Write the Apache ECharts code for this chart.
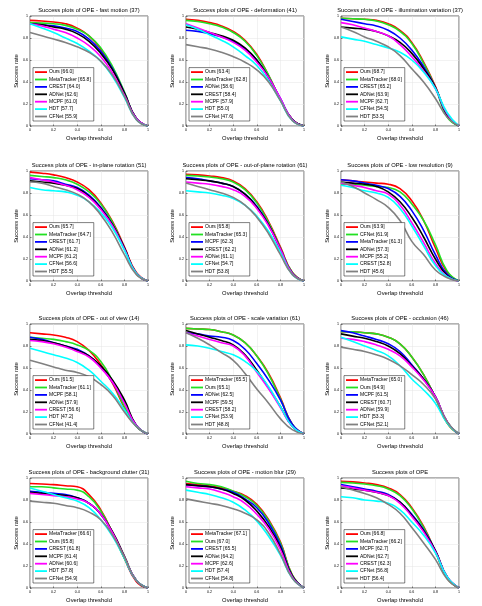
<!DOCTYPE html>
<html lang="en">
<head>
    <meta charset="UTF-8">
    <title>Success plots of OPE</title>
    <script src="https://cdn.jsdelivr.net/npm/echarts@6/dist/echarts.min.js"></script>
    <style>
        html, body { margin: 0; padding: 0; background: #fff; }
        #main { width: 482px; height: 606px; }
    </style>
</head>
<body>
<div id="main"></div>
<script type="text/javascript">
    const thresholds = [0, 0.1, 0.2, 0.3, 0.4, 0.5, 0.6, 0.7, 0.8, 0.9, 1];

    // line colour by legend rank
    const rankColors = ['#ff0000', '#22e022', '#0000ff', '#000000', '#ff00ff', '#00ffff', '#808080'];

    const titles = [
        'Success plots of OPE - fast motion (37)',
        'Success plots of OPE - deformation (41)',
        'Success plots of OPE - illumination variation (37)',
        'Success plots of OPE - in-plane rotation (51)',
        'Success plots of OPE - out-of-plane rotation (61)',
        'Success plots of OPE - low resolution (9)',
        'Success plots of OPE - out of view (14)',
        'Success plots of OPE - scale variation (61)',
        'Success plots of OPE - occlusion (46)',
        'Success plots of OPE - background clutter (31)',
        'Success plots of OPE - motion blur (29)',
        'Success plots of OPE'
    ];

    const names1 = ['Ours [66.0]', 'MetaTracker [65.8]', 'CREST [64.0]', 'ADNet [62.6]', 'MCPF [61.0]', 'HDT [57.7]', 'CFNet [55.9]'];
    const curves1 = [
        [0.96, 0.955, 0.945, 0.93, 0.89, 0.82, 0.70, 0.52, 0.30, 0.07, 0],
        [0.94, 0.935, 0.93, 0.915, 0.88, 0.82, 0.71, 0.54, 0.31, 0.07, 0],
        [0.93, 0.92, 0.91, 0.89, 0.86, 0.79, 0.68, 0.52, 0.30, 0.07, 0],
        [0.93, 0.92, 0.90, 0.88, 0.84, 0.77, 0.66, 0.51, 0.30, 0.07, 0],
        [0.93, 0.91, 0.88, 0.85, 0.80, 0.73, 0.63, 0.48, 0.28, 0.07, 0],
        [0.93, 0.89, 0.85, 0.80, 0.75, 0.68, 0.59, 0.45, 0.26, 0.06, 0],
        [0.85, 0.82, 0.79, 0.76, 0.72, 0.67, 0.59, 0.46, 0.27, 0.06, 0]
    ];

    const names2 = ['Ours [63.4]', 'MetaTracker [62.8]', 'ADNet [58.6]', 'CREST [58.4]', 'MCPF [57.9]', 'HDT [55.0]', 'CFNet [47.6]'];
    const curves2 = [
        [0.97, 0.96, 0.94, 0.91, 0.86, 0.78, 0.65, 0.46, 0.24, 0.06, 0],
        [0.96, 0.95, 0.93, 0.90, 0.85, 0.77, 0.64, 0.46, 0.24, 0.06, 0],
        [0.87, 0.86, 0.84, 0.81, 0.77, 0.70, 0.60, 0.44, 0.25, 0.06, 0],
        [0.90, 0.88, 0.85, 0.82, 0.78, 0.71, 0.60, 0.44, 0.24, 0.06, 0],
        [0.93, 0.89, 0.85, 0.81, 0.76, 0.69, 0.58, 0.44, 0.25, 0.06, 0],
        [0.92, 0.88, 0.83, 0.78, 0.72, 0.64, 0.55, 0.41, 0.23, 0.05, 0],
        [0.74, 0.72, 0.70, 0.67, 0.63, 0.58, 0.51, 0.40, 0.23, 0.05, 0]
    ];

    const names3 = ['Ours [68.7]', 'MetaTracker [68.0]', 'CREST [65.2]', 'ADNet [63.9]', 'MCPF [62.7]', 'CFNet [54.5]', 'HDT [53.5]'];
    const curves3 = [
        [0.98, 0.975, 0.97, 0.96, 0.93, 0.87, 0.76, 0.58, 0.36, 0.10, 0],
        [0.98, 0.975, 0.97, 0.955, 0.92, 0.86, 0.75, 0.57, 0.35, 0.08, 0],
        [0.97, 0.95, 0.93, 0.91, 0.87, 0.80, 0.69, 0.54, 0.35, 0.10, 0],
        [0.90, 0.89, 0.88, 0.86, 0.82, 0.76, 0.66, 0.52, 0.35, 0.10, 0],
        [0.94, 0.92, 0.89, 0.86, 0.82, 0.74, 0.63, 0.50, 0.34, 0.11, 0],
        [0.81, 0.79, 0.77, 0.74, 0.71, 0.67, 0.60, 0.49, 0.34, 0.12, 0],
        [0.90, 0.86, 0.81, 0.77, 0.72, 0.64, 0.52, 0.40, 0.25, 0.08, 0]
    ];

    const names4 = ['Ours [65.7]', 'MetaTracker [64.7]', 'CREST [61.7]', 'ADNet [61.2]', 'MCPF [61.2]', 'CFNet [56.6]', 'HDT [55.5]'];
    const curves4 = [
        [0.99, 0.98, 0.965, 0.94, 0.90, 0.83, 0.71, 0.54, 0.31, 0.08, 0],
        [0.96, 0.95, 0.94, 0.92, 0.88, 0.81, 0.70, 0.53, 0.30, 0.07, 0],
        [0.93, 0.92, 0.91, 0.88, 0.85, 0.78, 0.67, 0.51, 0.30, 0.07, 0],
        [0.91, 0.90, 0.89, 0.87, 0.84, 0.77, 0.66, 0.51, 0.30, 0.07, 0],
        [0.94, 0.92, 0.90, 0.87, 0.83, 0.76, 0.65, 0.50, 0.29, 0.07, 0],
        [0.85, 0.83, 0.82, 0.81, 0.78, 0.72, 0.62, 0.48, 0.28, 0.07, 0],
        [0.90, 0.89, 0.86, 0.83, 0.79, 0.72, 0.60, 0.44, 0.24, 0.06, 0]
    ];

    const names5 = ['Ours [65.8]', 'MetaTracker [65.3]', 'MCPF [62.3]', 'CREST [62.2]', 'ADNet [61.1]', 'CFNet [54.7]', 'HDT [53.8]'];
    const curves5 = [
        [0.97, 0.965, 0.955, 0.94, 0.91, 0.84, 0.72, 0.54, 0.31, 0.08, 0],
        [0.96, 0.955, 0.945, 0.93, 0.90, 0.83, 0.71, 0.53, 0.30, 0.08, 0],
        [0.94, 0.93, 0.91, 0.89, 0.86, 0.79, 0.68, 0.51, 0.29, 0.07, 0],
        [0.93, 0.92, 0.91, 0.89, 0.86, 0.79, 0.67, 0.51, 0.29, 0.07, 0],
        [0.90, 0.89, 0.88, 0.86, 0.83, 0.77, 0.66, 0.50, 0.29, 0.07, 0],
        [0.82, 0.81, 0.80, 0.78, 0.75, 0.69, 0.59, 0.45, 0.26, 0.06, 0],
        [0.89, 0.86, 0.83, 0.80, 0.76, 0.69, 0.58, 0.43, 0.24, 0.06, 0]
    ];

    const names6 = ['Ours [63.9]', 'CFNet [61.9]', 'MetaTracker [61.3]', 'ADNet [57.3]', 'MCPF [55.2]', 'CREST [52.8]', 'HDT [45.6]'];
    const curves6 = [
        [0.92, 0.91, 0.90, 0.89, 0.88, 0.84, 0.73, 0.55, 0.30, 0.08, 0],
        [0.88, 0.88, 0.87, 0.86, 0.85, 0.81, 0.70, 0.55, 0.33, 0.09, 0],
        [0.92, 0.91, 0.89, 0.87, 0.84, 0.77, 0.64, 0.46, 0.24, 0.06, 0],
        [0.90, 0.89, 0.88, 0.86, 0.81, 0.72, 0.58, 0.40, 0.20, 0.05, 0],
        [0.89, 0.87, 0.85, 0.82, 0.79, 0.69, 0.53, 0.35, 0.16, 0.04, 0],
        [0.87, 0.85, 0.82, 0.80, 0.76, 0.66, 0.50, 0.32, 0.14, 0.04, 0],
        [0.90, 0.86, 0.80, 0.74, 0.67, 0.55, 0.36, 0.24, 0.10, 0.03, 0]
    ];

    const names7 = ['Ours [61.5]', 'MetaTracker [61.1]', 'MCPF [58.1]', 'ADNet [57.9]', 'CREST [56.6]', 'HDT [47.2]', 'CFNet [41.4]'];
    const curves7 = [
        [0.92, 0.91, 0.90, 0.88, 0.84, 0.76, 0.63, 0.46, 0.24, 0.07, 0],
        [0.88, 0.87, 0.86, 0.84, 0.81, 0.76, 0.66, 0.48, 0.25, 0.07, 0],
        [0.88, 0.86, 0.83, 0.80, 0.77, 0.71, 0.61, 0.47, 0.29, 0.08, 0],
        [0.86, 0.85, 0.83, 0.80, 0.76, 0.71, 0.62, 0.49, 0.31, 0.08, 0],
        [0.85, 0.84, 0.82, 0.79, 0.75, 0.70, 0.60, 0.47, 0.28, 0.08, 0],
        [0.78, 0.75, 0.72, 0.69, 0.65, 0.58, 0.48, 0.37, 0.22, 0.07, 0],
        [0.67, 0.64, 0.61, 0.58, 0.56, 0.52, 0.45, 0.35, 0.20, 0.07, 0]
    ];

    const names8 = ['MetaTracker [65.5]', 'Ours [65.1]', 'ADNet [62.5]', 'MCPF [59.5]', 'CREST [58.2]', 'CFNet [53.9]', 'HDT [48.8]'];
    const curves8 = [
        [0.96, 0.955, 0.95, 0.93, 0.90, 0.83, 0.71, 0.55, 0.33, 0.09, 0],
        [0.96, 0.955, 0.95, 0.93, 0.90, 0.83, 0.71, 0.54, 0.32, 0.09, 0],
        [0.92, 0.91, 0.89, 0.88, 0.85, 0.77, 0.64, 0.49, 0.31, 0.09, 0],
        [0.94, 0.91, 0.88, 0.85, 0.81, 0.72, 0.58, 0.42, 0.25, 0.07, 0],
        [0.92, 0.89, 0.86, 0.83, 0.80, 0.71, 0.56, 0.41, 0.24, 0.07, 0],
        [0.81, 0.80, 0.78, 0.75, 0.72, 0.66, 0.57, 0.43, 0.25, 0.07, 0],
        [0.92, 0.87, 0.81, 0.74, 0.67, 0.55, 0.41, 0.28, 0.14, 0.04, 0]
    ];

    const names9 = ['MetaTracker [65.0]', 'Ours [64.9]', 'MCPF [61.5]', 'CREST [60.7]', 'ADNet [59.9]', 'HDT [53.3]', 'CFNet [52.1]'];
    const curves9 = [
        [0.93, 0.93, 0.92, 0.91, 0.88, 0.82, 0.70, 0.54, 0.33, 0.10, 0],
        [0.93, 0.93, 0.92, 0.91, 0.88, 0.82, 0.70, 0.54, 0.33, 0.10, 0],
        [0.94, 0.92, 0.89, 0.86, 0.82, 0.75, 0.63, 0.50, 0.34, 0.11, 0],
        [0.91, 0.89, 0.87, 0.84, 0.80, 0.73, 0.62, 0.50, 0.34, 0.11, 0],
        [0.87, 0.86, 0.84, 0.81, 0.77, 0.71, 0.61, 0.49, 0.34, 0.11, 0],
        [0.88, 0.84, 0.80, 0.76, 0.71, 0.62, 0.50, 0.40, 0.28, 0.10, 0],
        [0.79, 0.77, 0.75, 0.72, 0.68, 0.62, 0.54, 0.45, 0.32, 0.11, 0]
    ];

    const names10 = ['MetaTracker [66.6]', 'Ours [65.8]', 'CREST [61.8]', 'MCPF [61.4]', 'ADNet [60.6]', 'HDT [57.8]', 'CFNet [54.9]'];
    const curves10 = [
        [0.95, 0.945, 0.94, 0.93, 0.92, 0.85, 0.71, 0.50, 0.27, 0.06, 0],
        [0.92, 0.92, 0.91, 0.90, 0.89, 0.83, 0.70, 0.50, 0.27, 0.07, 0],
        [0.88, 0.87, 0.86, 0.85, 0.82, 0.77, 0.67, 0.50, 0.28, 0.07, 0],
        [0.87, 0.86, 0.85, 0.84, 0.82, 0.77, 0.67, 0.51, 0.29, 0.07, 0],
        [0.86, 0.85, 0.84, 0.83, 0.81, 0.77, 0.67, 0.50, 0.28, 0.07, 0],
        [0.91, 0.88, 0.85, 0.82, 0.79, 0.73, 0.62, 0.47, 0.27, 0.07, 0],
        [0.79, 0.78, 0.77, 0.75, 0.73, 0.69, 0.62, 0.48, 0.28, 0.07, 0]
    ];

    const names11 = ['MetaTracker [67.1]', 'Ours [67.0]', 'CREST [65.5]', 'ADNet [64.2]', 'MCPF [62.6]', 'HDT [57.4]', 'CFNet [54.8]'];
    const curves11 = [
        [0.95, 0.94, 0.93, 0.91, 0.88, 0.84, 0.76, 0.62, 0.42, 0.12, 0],
        [0.97, 0.95, 0.94, 0.92, 0.88, 0.83, 0.75, 0.61, 0.41, 0.12, 0],
        [0.94, 0.93, 0.92, 0.90, 0.87, 0.81, 0.73, 0.59, 0.39, 0.11, 0],
        [0.94, 0.93, 0.92, 0.90, 0.86, 0.80, 0.70, 0.56, 0.37, 0.11, 0],
        [0.92, 0.91, 0.90, 0.87, 0.83, 0.77, 0.67, 0.54, 0.35, 0.10, 0],
        [0.89, 0.87, 0.85, 0.82, 0.78, 0.71, 0.61, 0.47, 0.30, 0.09, 0],
        [0.81, 0.79, 0.77, 0.75, 0.72, 0.68, 0.62, 0.50, 0.31, 0.09, 0]
    ];

    const names12 = ['Ours [66.8]', 'MetaTracker [66.2]', 'MCPF [62.7]', 'ADNet [62.7]', 'CREST [62.3]', 'CFNet [56.8]', 'HDT [56.4]'];
    const curves12 = [
        [0.97, 0.965, 0.955, 0.94, 0.91, 0.85, 0.73, 0.56, 0.33, 0.09, 0],
        [0.96, 0.955, 0.945, 0.93, 0.90, 0.84, 0.72, 0.55, 0.33, 0.09, 0],
        [0.94, 0.92, 0.90, 0.88, 0.85, 0.78, 0.67, 0.53, 0.34, 0.10, 0],
        [0.91, 0.90, 0.89, 0.87, 0.84, 0.78, 0.66, 0.52, 0.34, 0.10, 0],
        [0.93, 0.91, 0.89, 0.87, 0.84, 0.77, 0.65, 0.51, 0.33, 0.10, 0],
        [0.83, 0.82, 0.80, 0.79, 0.77, 0.71, 0.60, 0.48, 0.32, 0.10, 0],
        [0.92, 0.89, 0.86, 0.82, 0.76, 0.68, 0.55, 0.41, 0.26, 0.08, 0]
    ];

    const allNames = [names1, names2, names3, names4, names5, names6, names7, names8, names9, names10, names11, names12];
    const allCurves = [curves1, curves2, curves3, curves4, curves5, curves6, curves7, curves8, curves9, curves10, curves11, curves12];

    // panel layout (pixels)
    const colLeft = [30, 186, 341];
    const rowTop = [16, 171, 324, 478];
    const plotW = 118;
    const plotH = 110;
    const chartH = 606;
    const font = 'Liberation Sans, Arial, sans-serif';

    let myChart = echarts.init(document.getElementById('main'), null, {renderer: 'canvas'});

    let option = {
        animation: false,
        backgroundColor: '#fff',
        title: [],
        grid: [],
        xAxis: [],
        yAxis: [],
        legend: [],
        series: []
    };

    for (let p = 0; p < 12; p++) {
        let gx = colLeft[p % 3];
        let gy = rowTop[Math.floor(p / 3)];

        option.title.push({
            text: titles[p],
            left: gx + plotW / 2,
            top: gy - 9,
            textAlign: 'center',
            padding: 0,
            textStyle: {fontSize: 5.8, fontWeight: 'normal', color: '#000', fontFamily: font}
        });

        option.grid.push({
            left: gx, top: gy, width: plotW, height: plotH,
            show: true, borderColor: '#000', borderWidth: 0.6, backgroundColor: '#fff'
        });

        option.xAxis.push({
            type: 'value', gridIndex: p, min: 0, max: 1, interval: 0.2,
            name: 'Overlap threshold', nameLocation: 'middle', nameGap: 9,
            nameTextStyle: {fontSize: 5.8, color: '#000', fontFamily: font},
            axisLine: {show: false},
            axisTick: {show: true, inside: true, length: 1.5, lineStyle: {color: '#000', width: 0.5}},
            axisLabel: {fontSize: 3.6, color: '#000', margin: 2, fontFamily: font},
            splitLine: {show: true, lineStyle: {color: '#e4e4e4', width: 0.5}}
        });

        option.yAxis.push({
            type: 'value', gridIndex: p, min: 0, max: 1, interval: 0.2,
            name: 'Success rate', nameLocation: 'middle', nameGap: 7,
            nameTextStyle: {fontSize: 5.8, color: '#000', fontFamily: font},
            axisLine: {show: false},
            axisTick: {show: true, inside: true, length: 1.5, lineStyle: {color: '#000', width: 0.5}},
            axisLabel: {fontSize: 3.6, color: '#000', margin: 2, fontFamily: font},
            splitLine: {show: true, lineStyle: {color: '#e4e4e4', width: 0.5}}
        });

        let names = allNames[p];
        let curves = allCurves[p];

        option.legend.push({
            orient: 'vertical',
            left: gx + 3,
            bottom: chartH - (gy + plotH) + 5,
            backgroundColor: '#fff',
            borderColor: '#000',
            borderWidth: 0.5,
            padding: [2, 3, 2, 2],
            itemGap: 2.4,
            itemWidth: 12,
            itemHeight: 1.8,
            icon: 'rect',
            selectedMode: false,
            textStyle: {fontSize: 5, color: '#000', fontFamily: font, padding: [0, 0, 0, -3]},
            data: names.map((n, i) => ({
                name: n,
                icon: 'rect',
                itemStyle: {color: rankColors[i], borderWidth: 0}
            }))
        });

        curves.forEach((c, i) => {
            option.series.push({
                name: names[i],
                type: 'line',
                xAxisIndex: p,
                yAxisIndex: p,
                symbol: 'none',
                smooth: true,
                lineStyle: {color: rankColors[i], width: 1.6},
                itemStyle: {color: rankColors[i]},
                data: thresholds.map((t, k) => [t, c[k]])
            });
        });
    }

    myChart.setOption(option);
</script>
</body>
</html>
